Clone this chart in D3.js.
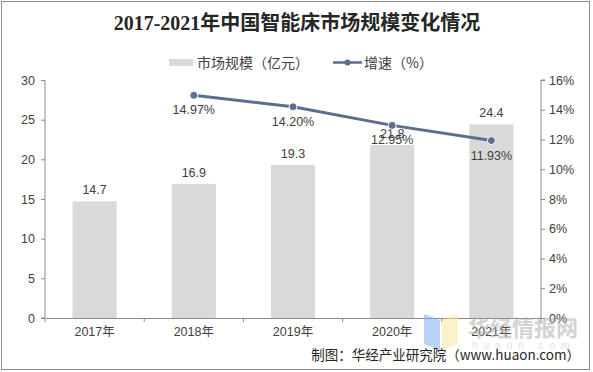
<!DOCTYPE html>
<html>
<head>
<meta charset="utf-8">
<script src="https://cdn.jsdelivr.net/npm/d3@7"></script>
<style>
  body { margin: 0; background: #fff; }
  text { font-family: "Liberation Sans", "Noto Sans CJK SC", sans-serif; }
</style>
</head>
<body>
<div id="chart"></div>
<script>
// chart data
var years = ['2017年', '2018年', '2019年', '2020年', '2021年'];
var marketSize = [14.7, 16.9, 19.3, 21.8, 24.4];      // 亿元
var growth = [null, 14.97, 14.20, 12.95, 11.93];        // %
var leftTicks = [0, 5, 10, 15, 20, 25, 30];
var rightTicks = [0, 2, 4, 6, 8, 10, 12, 14, 16];

var svgWidth = 593, svgHeight = 372;
var margin = { top: 80, right: 52, bottom: 54, left: 45 };
var width = svgWidth - margin.left - margin.right;
var height = svgHeight - margin.top - margin.bottom;

var svg = d3.select('#chart').append('svg')
  .attr('width', svgWidth)
  .attr('height', svgHeight);

// outer frame
svg.append('rect')
  .attr('x', 1.5).attr('y', 1.5)
  .attr('width', svgWidth - 5).attr('height', svgHeight - 4)
  .attr('fill', 'none').attr('stroke', '#8c8c8c');

// title
svg.append('text')
  .attr('x', 297).attr('y', 30)
  .attr('text-anchor', 'middle')
  .style('font-family', '"Liberation Serif", "Noto Sans CJK SC", serif')
  .style('font-weight', 'bold')
  .style('font-size', '20px')
  .attr('fill', '#262626')
  .text('2017-2021年中国智能床市场规模变化情况');

// legend
var legend = svg.append('g');
legend.append('rect').attr('x', 169).attr('y', 59).attr('width', 24).attr('height', 7).attr('fill', '#d9d9d9');
legend.append('text').attr('x', 197).attr('y', 68).style('font-size', '14px').attr('fill', '#404040')
  .style('font-family', '"Noto Sans CJK SC", sans-serif').text('市场规模（亿元）');
legend.append('line').attr('x1', 333).attr('x2', 362).attr('y1', 62.5).attr('y2', 62.5)
  .attr('stroke', '#5b6e8e').attr('stroke-width', 2.5);
legend.append('circle').attr('cx', 347.5).attr('cy', 62.5).attr('r', 3).attr('fill', '#5b6e8e');
legend.append('text').attr('x', 364).attr('y', 68).style('font-size', '14px').attr('fill', '#404040')
  .style('font-family', '"Noto Sans CJK SC", sans-serif').text('增速（%）');

var chart = svg.append('g')
  .attr('transform', `translate(${margin.left}, ${margin.top})`);

// scales
var x = d3.scaleBand().domain(years).range([0, width]).paddingInner(0.555).paddingOuter(0.2775);
var xStep = d3.scaleBand().domain(years).range([0, width]);
var yLeft = d3.scaleLinear().domain([0, 30]).range([height, 0]);
var yRight = d3.scaleLinear().domain([0, 16]).range([height, 0]);

// axes
var leftAxis = d3.axisLeft(yLeft).tickValues(leftTicks).tickSize(4).tickPadding(6);
var rightAxis = d3.axisRight(yRight).tickValues(rightTicks).tickSize(4).tickPadding(4)
  .tickFormat(d => d + '%');
var bottomAxis = d3.axisBottom(xStep).tickSize(0).tickPadding(9);

function styleAxis(g) {
  g.select('.domain').attr('stroke', '#8c8c8c');
  g.selectAll('.tick line').attr('stroke', '#8c8c8c');
  g.selectAll('.tick text').attr('fill', '#404040').style('font-size', '12.5px')
    .style('font-family', '"Liberation Sans", "Noto Sans CJK SC", sans-serif');
}

chart.append('g').call(leftAxis).call(styleAxis)
  .select('.domain').attr('d', `M-4,${height}H0V0`);
chart.append('g').attr('transform', `translate(${width},0)`).call(rightAxis).call(styleAxis)
  .select('.domain').attr('d', `M0,${height}V0H4`);

var xAxisG = chart.append('g').attr('transform', `translate(0,${height})`).call(bottomAxis).call(styleAxis);
// ticks at category boundaries
xAxisG.selectAll('.boundary')
  .data(d3.range(years.length + 1))
  .enter().append('line')
  .attr('x1', i => i * xStep.step()).attr('x2', i => i * xStep.step())
  .attr('y1', 0).attr('y2', 4)
  .attr('stroke', '#8c8c8c');

// bars
chart.selectAll('.bar')
  .data(marketSize)
  .enter().append('rect')
  .attr('x', (d, i) => x(years[i]))
  .attr('y', d => yLeft(d))
  .attr('width', x.bandwidth())
  .attr('height', d => height - yLeft(d))
  .attr('fill', '#d9d9d9');

// bar labels
chart.selectAll('.barLabel')
  .data(marketSize)
  .enter().append('text')
  .attr('x', (d, i) => x(years[i]) + x.bandwidth() / 2)
  .attr('y', d => yLeft(d) - 7)
  .attr('text-anchor', 'middle')
  .style('font-size', '12.5px')
  .attr('fill', '#404040')
  .text(d => d);

// growth line
var pts = growth.map((g, i) => ({ year: years[i], v: g })).filter(d => d.v !== null);
var line = d3.line()
  .x(d => xStep(d.year) + xStep.bandwidth() / 2)
  .y(d => yRight(d.v));

chart.append('path')
  .datum(pts)
  .attr('d', line)
  .attr('fill', 'none')
  .attr('stroke', '#5b6e8e')
  .attr('stroke-width', 3);

chart.selectAll('.pt')
  .data(pts)
  .enter().append('circle')
  .attr('cx', d => xStep(d.year) + xStep.bandwidth() / 2)
  .attr('cy', d => yRight(d.v))
  .attr('r', 4)
  .attr('fill', '#5b6e8e')
  .attr('stroke', '#fff')
  .attr('stroke-width', 1);

chart.selectAll('.ptLabel')
  .data(pts)
  .enter().append('text')
  .attr('x', d => xStep(d.year) + xStep.bandwidth() / 2)
  .attr('y', d => yRight(d.v) + 19)
  .attr('text-anchor', 'middle')
  .style('font-size', '12.5px')
  .attr('fill', '#404040')
  .text(d => d.v.toFixed(2) + '%');

// watermark
var wm = svg.append('g').attr('opacity', 0.55);
wm.append('path').attr('d', 'M424,314 L440,320 L440,350 L424,344 Z').attr('fill', '#7fb0f0');
wm.append('path').attr('d', 'M442,320 L458,314 L458,344 L442,350 Z').attr('fill', '#f8e6a0');
wm.append('text').attr('x', 468).attr('y', 336)
  .style('font-family', '"Noto Sans CJK SC", sans-serif').style('font-weight', 'bold')
  .style('font-size', '22px').attr('fill', '#b0b0b0').text('华经情报网');
wm.append('text').attr('x', 472).attr('y', 349)
  .style('font-size', '10px').style('letter-spacing', '6px').attr('fill', '#c8c8c8').text('huaon.com');

// source note
svg.append('text')
  .attr('x', 580).attr('y', 360)
  .attr('text-anchor', 'end')
  .style('font-family', '"Noto Sans CJK SC", sans-serif')
  .style('font-size', '13.5px')
  .attr('fill', '#262626')
  .text('制图：华经产业研究院（www.huaon.com）');
</script>
</body>
</html>
